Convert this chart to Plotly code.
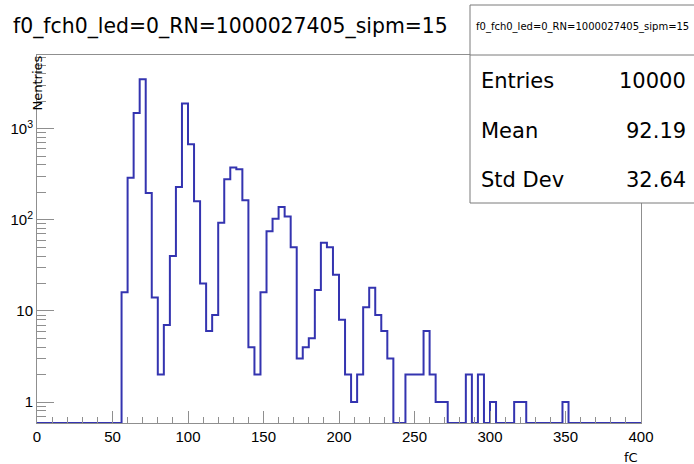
import plotly.graph_objects as go

# ---------------- data ----------------
title_text = "f0_fch0_led=0_RN=1000027405_sipm=15"
bin_width = 4
bin_low = list(range(0, 400, bin_width))
counts = [
    0, 0, 0, 0, 0, 0, 0, 0, 0, 0, 0, 0, 0, 0,          # 0 - 52
    16, 290, 1490, 3480, 197, 14, 2, 7, 40, 229,      # 56 - 92
    1887, 674, 160, 20, 6, 9, 93, 278, 374, 358,      # 96 - 132
    164, 4, 2, 16, 75, 103, 138, 109, 50, 3,          # 136 - 172
    4, 5, 17, 56, 50, 25, 8, 2, 1, 2,                 # 176 - 212
    11, 18, 9, 6, 3, 0, 0, 2, 2, 2,                   # 216 - 252
    6, 2, 1, 1, 0, 0, 0, 2, 0, 2,                     # 256 - 292
    0, 1, 0, 0, 0, 1, 1, 0, 0, 0,                     # 296 - 332
    0, 0, 0, 1, 0, 0, 0, 0, 0, 0,                     # 336 - 372
    0, 0, 0, 0, 0, 0,                                 # 376 - 396
]
assert len(counts) == len(bin_low)

x_tick_vals = [0, 50, 100, 150, 200, 250, 300, 350, 400]
y_tick_vals = [1, 10, 100, 1000]
y_tick_text = ["1", "10", "10<sup>2</sup>", "10<sup>3</sup>"]
y_minor_vals = [0.6, 0.7, 0.8, 0.9,
                2, 3, 4, 5, 6, 7, 8, 9,
                20, 30, 40, 50, 60, 70, 80, 90,
                200, 300, 400, 500, 600, 700, 800, 900,
                2000, 3000, 4000, 5000, 6000]
x_range = [0, 400]
y_log_range = [-0.2305, 3.809]

stats_labels = ["Entries", "Mean", "Std Dev"]
stats_values = ["10000", "92.19", "32.64"]
x_title = "fC"
y_title = "Nentries"

# ---------------- geometry (pixels) ----------------
W, H = 694, 464
L, R, T, B = 37, 641, 55, 423
pw, ph = R - L, B - T

def px(xp):
    return (xp - L) / pw

def py(yp):
    return (B - yp) / ph

LINE_COL = "#3434b0"
FRAME_COL = "#8f8f8f"
FONT = "DejaVu Sans"
TICKFONT = "Liberation Sans"

floor_val = 10 ** y_log_range[0]
xs, ys = [], []
for lo, c in zip(bin_low, counts):
    v = c if c > 0 else floor_val
    xs += [lo, lo + bin_width]
    ys += [v, v]

fig = go.Figure()
fig.add_trace(go.Scatter(x=xs, y=ys, mode="lines",
                         line=dict(color=LINE_COL, width=2),
                         hoverinfo="skip", showlegend=False))
# helper trace for the minor-tick overlay axis
fig.add_trace(go.Scatter(x=[None], y=[None], yaxis="y2", mode="lines",
                         showlegend=False, hoverinfo="skip"))

fig.update_layout(
    width=W, height=H,
    margin=dict(l=L, r=W - R, t=T, b=H - B, pad=0, autoexpand=False),
    paper_bgcolor="white", plot_bgcolor="white",
    showlegend=False,
    xaxis=dict(range=x_range, tickvals=x_tick_vals, ticks="inside",
               ticklen=12, tickcolor=FRAME_COL, tickwidth=1, automargin=False,
               showline=True, linecolor=FRAME_COL, linewidth=1, mirror=True,
               showgrid=False, zeroline=False,
               tickfont=dict(family=TICKFONT, size=15, color="black"),
               minor=dict(dtick=10, ticks="inside", ticklen=6,
                          tickcolor=FRAME_COL, showgrid=False)),
    yaxis=dict(type="log", range=y_log_range, tickvals=y_tick_vals,
               ticktext=y_tick_text, ticks="inside", ticklen=17,
               tickcolor=FRAME_COL, tickwidth=1, automargin=False,
               showline=True, linecolor=FRAME_COL, linewidth=1, mirror=True,
               showgrid=False, zeroline=False,
               tickfont=dict(family=TICKFONT, size=15, color="black")),
    yaxis2=dict(type="log", range=y_log_range, overlaying="y", side="left",
                tickvals=y_minor_vals, ticks="inside", ticklen=9,
                automargin=False,
                tickcolor=FRAME_COL, tickwidth=1, showticklabels=False,
                showgrid=False, zeroline=False, showline=False),
)

shapes = []
# stats box
shapes.append(dict(type="rect", xref="paper", yref="paper",
                   x0=px(470), x1=px(700), y0=py(203), y1=py(5),
                   line=dict(color="#7a7a7a", width=1), fillcolor="white",
                   layer="above"))
shapes.append(dict(type="line", xref="paper", yref="paper",
                   x0=px(470), x1=px(700), y0=py(55), y1=py(55),
                   line=dict(color="#7a7a7a", width=1), layer="above"))
fig.update_layout(shapes=shapes)

ann = []
ann.append(dict(text=title_text, xref="paper", yref="paper",
                x=px(11), y=py(26), xanchor="left", yanchor="middle",
                showarrow=False, font=dict(family=FONT, size=20.4, color="black")))
ann.append(dict(text=title_text, xref="paper", yref="paper",
                x=px(582), y=py(27), xanchor="center", yanchor="middle",
                showarrow=False, font=dict(family=FONT, size=10, color="black")))
row_y = [81, 130.5, 180]
for lab, val, yy in zip(stats_labels, stats_values, row_y):
    ann.append(dict(text=lab, xref="paper", yref="paper", x=px(479),
                    y=py(yy), xanchor="left", yanchor="middle", showarrow=False,
                    font=dict(family=FONT, size=21, color="black")))
    ann.append(dict(text=val, xref="paper", yref="paper", x=px(688),
                    y=py(yy), xanchor="right", yanchor="middle", showarrow=False,
                    font=dict(family=FONT, size=21, color="black")))
ann.append(dict(text=x_title, xref="paper", yref="paper", x=px(640),
                y=py(457), xanchor="right", yanchor="middle", showarrow=False,
                font=dict(family=FONT, size=13, color="black")))
ann.append(dict(text=y_title, xref="paper", yref="paper", x=px(37),
                y=py(54), xanchor="center", yanchor="top", textangle=-90,
                showarrow=False, font=dict(family=FONT, size=13, color="black")))
fig.update_layout(annotations=ann)

fig.write_html("out.html", config={"displayModeBar": False},
               post_script="document.body.style.margin='0';")
